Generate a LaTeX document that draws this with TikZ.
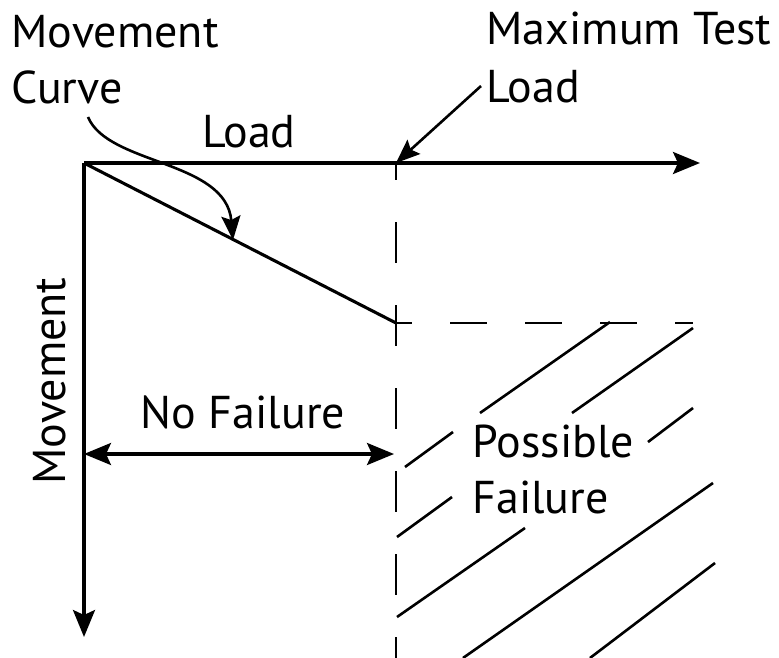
\documentclass[tikz,border=0pt]{standalone}
\usepackage{fontspec}
\setmainfont{PT Sans}
\usetikzlibrary{arrows.meta}
\begin{document}
\begin{tikzpicture}[x=1pt,y=-1pt,
  line width=3.1pt,
  txt/.style={font=\fontsize{46}{54}\selectfont, inner sep=0pt},
  lefttxt/.style={txt, anchor=base west},
  axistip/.style={-{Stealth[length=27pt,width=22pt,inset=5pt]}},
  bothtips/.style={{Stealth[length=27pt,width=22pt,inset=5pt]}-{Stealth[length=27pt,width=22pt,inset=5pt]}},
  pointer/.style={line width=2.6pt,-{Stealth[length=24pt,width=19pt,inset=4pt]}},
  limitline/.style={line width=2.8pt},
  hatch/.style={line width=2.6pt}]
\useasboundingbox (0,0) rectangle (779,658);

% key points of the chart
\coordinate (o) at (84,163);
\coordinate (loadend) at (700,163);
\coordinate (movend) at (84,637);
\coordinate (maxtop) at (396,163);
\coordinate (maxbot) at (396,658);
\coordinate (corner) at (396,323);
\coordinate (cornerend) at (693,323);

% labels
\node[lefttxt] (mc1) at (10,48) {Movement};
\node[lefttxt] (mc2) at (10,104) {Curve};
\node[lefttxt] (mt1) at (485,45) {Maximum Test};
\node[lefttxt] (mt2) at (485,103) {Load};
\node[txt, anchor=base] (load) at (249,148) {Load};
\node[txt, anchor=base, rotate=90] (mov) at (65,381) {Movement};
\node[txt, anchor=base] (nofail) at (243,428) {No Failure};
\node[lefttxt] (pf1) at (471,457) {Possible};
\node[lefttxt] (pf2) at (471,513) {Failure};

% axes
\draw[axistip] (o) -- (loadend);
\draw[axistip] (o) -- (movend);

% movement curve
\draw (o) -- (corner);

% limits: maximum test load and its movement
\draw[limitline, dash pattern=on 41pt off 42pt, dash phase=24pt] (maxtop) -- (maxbot);
\draw[limitline, dash pattern=on 37pt off 38pt, dash phase=21pt] (corner) -- (cornerend);

% no failure span
\coordinate (nfl) at (84,454);
\coordinate (nfr) at (394,454);
\draw[bothtips] (nfl) -- (nfr);

% pointers from the labels
\coordinate (mcstart) at (88,117);
\coordinate (mctip) at (233,240);
\draw[pointer] (mcstart) .. controls (108,165) and (226,160) .. (mctip);
\coordinate (mtstart) at (481,86);
\draw[pointer] (mtstart) -- (maxtop);

% possible failure hatching
\draw[hatch] (405,467) -- (453,432);
\draw[hatch] (480,413) -- (610,322);
\draw[hatch] (397,537) -- (452,497);
\draw[hatch] (572,413) -- (693,328);
\draw[hatch] (397,617) -- (525,528);
\draw[hatch] (648,442) -- (693,408);
\draw[hatch] (463,658) -- (713,483);
\draw[hatch] (590,658) -- (715,563);
\end{tikzpicture}
\end{document}
